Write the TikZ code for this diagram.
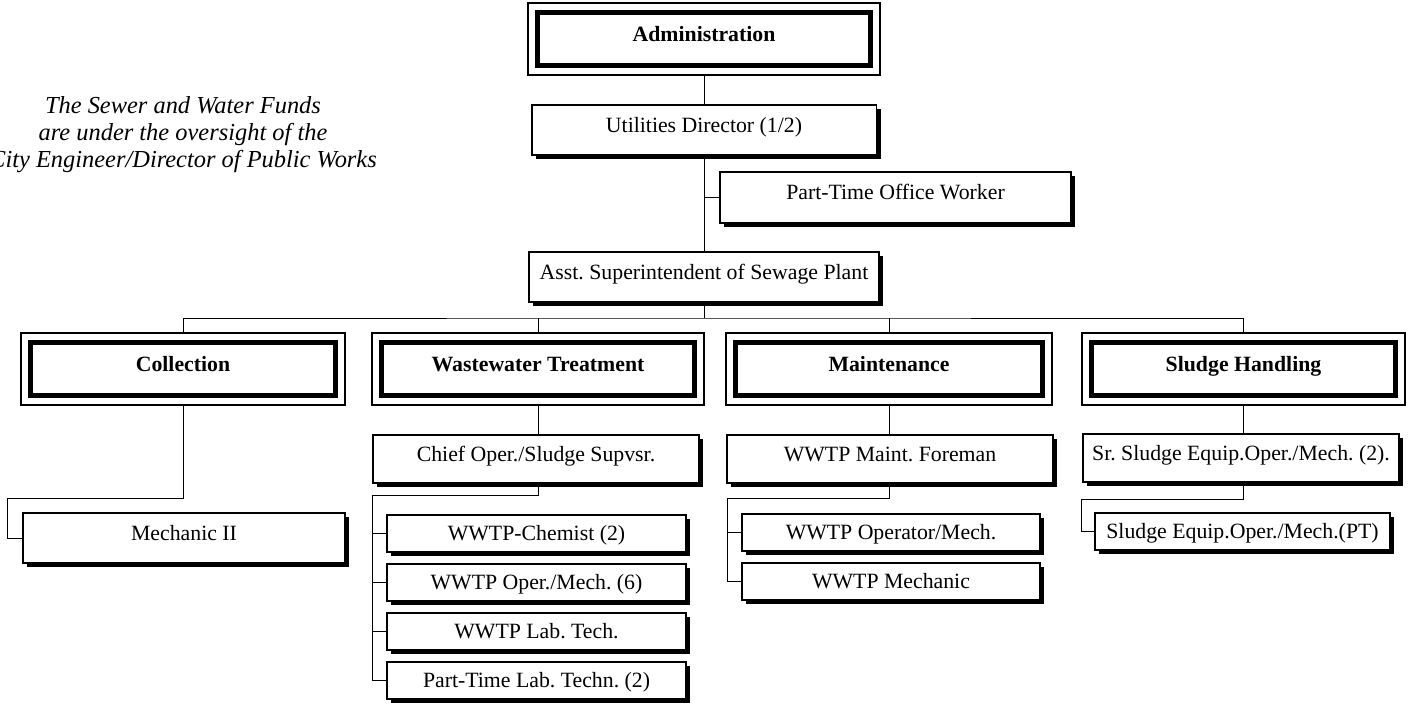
\documentclass[tikz,border=0pt]{standalone}
\usepackage{fontspec}
\setmainfont{Liberation Serif}
\usetikzlibrary{shadows,backgrounds}

\tikzset{
  head/.style={draw, line width=2.8pt, fill=white, inner sep=0pt,
    preaction={draw, line width=12.1pt},
    preaction={draw=white, line width=9.7pt},
    font=\fontsize{12.4}{14}\selectfont\bfseries,
    text height=8.5pt, text depth=6pt, minimum height=1.05cm},
  staff/.style={draw, line width=1.1pt, fill=white, inner sep=0pt,
    drop shadow={shadow xshift=2.4pt, shadow yshift=-2.4pt, opacity=1, fill=black},
    font=\fontsize{12.4}{14}\selectfont, text height=8.5pt, text depth=0pt},
  tall/.style={text depth=5.9pt},
  link/.style={line width=1.25pt}
}

\begin{document}
\frenchspacing
\begin{tikzpicture}[x=0.02cm, y=-0.02cm]
	\useasboundingbox (0,0) rectangle (1416,704);

	% side note
	\node[font=\fontsize{13.9}{15.3}\selectfont\itshape, align=center] (note) at (183,135)
		{The Sewer and Water Funds\\ are under the oversight of the\\ City Engineer/Director of Public Works};

	% top of the chart
	\node[head, minimum width=6.65cm] (admin) at (704,39) {Administration};
	\node[staff, tall, minimum width=6.9cm, minimum height=1cm] (util) at (704,130) {Utilities Director (1/2)};
	\node[staff, tall, minimum width=7.02cm, minimum height=1.02cm] (ptow) at (895.5,197.5) {Part-Time Office Worker};
	\node[staff, tall, minimum width=7cm, minimum height=1cm] (asst) at (704,277) {Asst. Superintendent of Sewage Plant};

	% the four divisions
	\node[head, minimum width=6.09cm] (coll) at (183,369) {Collection};
	\node[head, minimum width=6.27cm] (wwt) at (538,369) {Wastewater Treatment};
	\node[head, minimum width=6.15cm] (maint) at (889,369) {Maintenance};
	\node[head, minimum width=6.09cm] (sludge) at (1243.5,369) {Sludge Handling};

	% collection staff
	\node[staff, tall, minimum width=6.44cm, minimum height=1cm] (mech2) at (184,538) {Mechanic II};

	% treatment staff
	\node[staff, tall, minimum width=6.52cm, minimum height=0.97cm] (chief) at (536,459) {Chief Oper./Sludge Supvsr.};
	\node[staff, minimum width=5.98cm, minimum height=0.74cm] (chem) at (536.5,533.5) {WWTP-Chemist (2)};
	\node[staff, minimum width=5.98cm, minimum height=0.74cm] (oper) at (536.5,582.5) {WWTP Oper./Mech. (6)};
	\node[staff, minimum width=5.98cm, minimum height=0.74cm] (lab) at (536.5,631.5) {WWTP Lab. Tech.};
	\node[staff, minimum width=5.98cm, minimum height=0.74cm] (ptlab) at (536.5,680.5) {Part-Time Lab. Techn. (2)};

	% maintenance staff
	\node[staff, tall, minimum width=6.52cm, minimum height=0.97cm] (foreman) at (890,459) {WWTP Maint. Foreman};
	\node[staff, minimum width=5.96cm, minimum height=0.74cm] (opmech) at (891,532.5) {WWTP Operator/Mech.};
	\node[staff, minimum width=5.96cm, minimum height=0.74cm] (mech) at (891,581.5) {WWTP Mechanic};

	% sludge staff
	\node[staff, tall, minimum width=6.32cm, minimum height=0.97cm] (srsl) at (1241,458) {Sr. Sludge Equip.Oper./Mech. (2).};
	\node[staff, minimum width=5.9cm, minimum height=0.74cm] (slpt) at (1242.5,531.5) {Sludge Equip.Oper./Mech.(PT)};

	% lines behind the boxes
	\begin{scope}[on background layer, link]
		\coordinate (bus) at (704,318);
		\coordinate (collspine) at (7,498);
		\coordinate (wwtspine) at (372,495);
		\coordinate (maintspine) at (727,498);
		\coordinate (sludgespine) at (1081,499);
		\draw (admin.south) -- (util.north);
		\draw (util.south) -- (asst.north);
		\draw (util.south |- ptow.west) -- (ptow.west);
		\draw (asst.south) -- (bus);
		\draw (coll.north) |- (bus) -| (sludge.north);
		\draw (wwt.north) -- (wwt.north |- bus);
		\draw (maint.north) -- (maint.north |- bus);
		\draw (wwt.south) -- (wwt.south |- chief.north);
		\draw (maint.south) -- (maint.south |- foreman.north);
		\draw (sludge.south) -- (sludge.south |- srsl.north);
		\draw (coll.south) |- (collspine) |- (mech2.west);
		\draw (wwt.south |- chief.south) |- (wwtspine) |- (ptlab.west);
		\foreach \n in {chem,oper,lab}
			\draw (wwtspine |- \n.west) -- (\n.west);
		\draw (maint.south |- foreman.south) |- (maintspine) |- (mech.west);
		\draw (maintspine |- opmech.west) -- (opmech.west);
		\draw (sludge.south |- srsl.south) |- (sludgespine) |- (slpt.west);
	\end{scope}
\end{tikzpicture}
\end{document}
